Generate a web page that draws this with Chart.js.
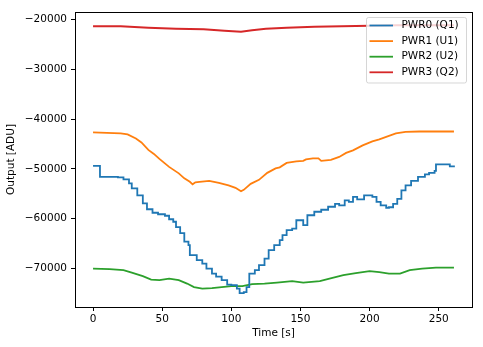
<!DOCTYPE html>
<html>
<head>
<meta charset="utf-8">
<script src="https://cdn.jsdelivr.net/npm/chart.js@4/dist/chart.umd.min.js"></script>
<style>
  html, body { margin: 0; padding: 0; background: #fff; }
  canvas { display: block; }
</style>
</head>
<body>
<canvas id="pwrChart" width="483" height="347"></canvas>
<script>
// detector outputs vs. time, one time/value pair of arrays per channel
const labels = ['PWR0 (Q1)', 'PWR1 (U1)', 'PWR2 (U2)', 'PWR3 (Q2)'];
const colors = ['#1f77b4', '#ff7f0e', '#2ca02c', '#d62728'];

const pwr0Time = [0, 5, 18, 22, 26, 28, 32, 36, 39, 43, 47, 52, 55, 58, 60, 63, 66, 69, 70, 75,
  79, 82, 86, 89, 93, 97, 100, 104, 106, 109, 111, 113, 117, 120, 124, 127, 131, 135, 137, 140,
  144, 147, 150, 152, 155, 160, 165, 170, 175, 178, 182, 185, 188, 191, 196, 202, 205, 208, 212, 214,
  217, 220, 223, 226, 230, 235, 240, 243, 247, 248, 255, 258, 261];
const pwr0Vals = [-49400, -51600, -51700, -52100, -52900, -53900, -55300, -56900, -58100, -58800,
  -59100, -59400, -60100, -60600, -61700, -62900, -64600, -65300, -67300, -68300,
  -69000, -70000, -71000, -71600, -72300, -73200, -73300, -74000, -74900, -74700,
  -73700, -71000, -70300, -69300, -68000, -66300, -65300, -64300, -63300, -62300,
  -62000, -60300, -60300, -61300, -59300, -58600, -58200, -57600, -57000, -57300,
  -56300, -56600, -55600, -56100, -55300, -55600, -56600, -57300, -57800, -57700,
  -57000, -56000, -54300, -53300, -52400, -51600, -51100, -50800, -50400, -49100,
  -49100, -49500, -49300];

const pwr1Time = [0, 10, 20, 25, 31, 35, 40, 44, 48, 55, 62, 66, 70, 72, 74, 77, 84, 91, 98, 103,
  107, 109, 114, 120, 126, 132, 135, 140, 147, 152, 154, 159, 163, 165, 172, 178, 183, 188, 195, 202,
  207, 212, 219, 226, 236, 261];
const pwr1Vals = [-42700, -42800, -42900, -43100, -43900, -44700, -46200, -47000, -48000, -49600,
  -50900, -51900, -52600, -53100, -52700, -52600, -52400, -52800, -53300, -53800,
  -54500, -54200, -53000, -52200, -50800, -49900, -49700, -48800, -48500, -48400,
  -48100, -47900, -47900, -48400, -48200, -47600, -46800, -46300, -45300, -44500,
  -44100, -43600, -42900, -42600, -42500, -42500];

const pwr2Time = [0, 12, 22, 28, 36, 42, 48, 55, 62, 68, 73, 79, 86, 93, 100, 108, 115, 124, 133, 144,
  152, 164, 171, 181, 190, 200, 207, 214, 222, 229, 238, 248, 261];
const pwr2Vals = [-70000, -70100, -70300, -70800, -71500, -72200, -72300, -72000, -72300, -73000,
  -73700, -74000, -73900, -73700, -73500, -73500, -73100, -73000, -72800, -72500,
  -72800, -72500, -72000, -71300, -70900, -70500, -70700, -71000, -71000, -70300,
  -70000, -69800, -69800];

const pwr3Time = [0, 20, 40, 60, 80, 95, 107, 115, 125, 140, 160, 180, 200, 220, 240, 261];
const pwr3Vals = [-21400, -21400, -21700, -21900, -22000, -22300, -22500, -22200, -21900, -21700,
  -21500, -21400, -21300, -21200, -21200, -21200];

const xTicks = [0, 50, 100, 150, 200, 250];
const yTicks = [-70000, -60000, -50000, -40000, -30000, -20000];

const FONT = 'DejaVu Sans';
Chart.defaults.font.family = FONT;
Chart.defaults.font.size = 10.5;
Chart.defaults.color = '#000';

function toPoints(ts, vs) {
  return ts.map((t, i) => ({ x: t, y: vs[i] }));
}

const series = [
  toPoints(pwr0Time, pwr0Vals),
  toPoints(pwr1Time, pwr1Vals),
  toPoints(pwr2Time, pwr2Vals),
  toPoints(pwr3Time, pwr3Vals)
];

// axes frame on all four sides
const framePlugin = {
  id: 'frame',
  afterDraw(chart) {
    const { ctx, chartArea: a } = chart;
    ctx.save();
    ctx.strokeStyle = '#000';
    ctx.lineWidth = 1;
    ctx.strokeRect(Math.round(a.left) + 0.5, Math.round(a.top) + 0.5,
      Math.round(a.right - a.left), Math.round(a.bottom - a.top));
    ctx.restore();
  }
};

// semi-transparent legend box in the upper right corner of the plot
const boxLegend = {
  id: 'boxLegend',
  afterDatasetsDraw(chart) {
    const { ctx, chartArea: a } = chart;
    const right = a.right - 6, top = a.top + 5;
    const w = 100, h = 65.5, left = right - w;
    ctx.save();
    ctx.globalAlpha = 0.8;
    ctx.fillStyle = '#fff';
    ctx.strokeStyle = '#cccccc';
    ctx.lineWidth = 1;
    ctx.beginPath();
    ctx.roundRect(left + 0.5, top + 0.5, w, h, 2);
    ctx.fill();
    ctx.stroke();
    ctx.globalAlpha = 1;
    ctx.font = '10.5px ' + FONT;
    ctx.textBaseline = 'middle';
    chart.data.datasets.forEach((ds, i) => {
      const y = top + 8.5 + i * 15.6;
      ctx.strokeStyle = ds.borderColor;
      ctx.lineWidth = 1.8;
      ctx.beginPath();
      ctx.moveTo(left + 3.5, y);
      ctx.lineTo(left + 27, y);
      ctx.stroke();
      ctx.fillStyle = '#000';
      ctx.fillText(ds.label, left + 35.5, y);
    });
    ctx.restore();
  }
};

new Chart(document.getElementById('pwrChart'), {
  type: 'line',
  data: {
    datasets: series.map((pts, i) => ({
      label: labels[i],
      data: pts,
      borderColor: colors[i],
      backgroundColor: colors[i],
      borderWidth: 1.8,
      pointRadius: 0,
      tension: 0,
      // PWR0 holds each level until the next reading (staircase)
      stepped: i === 0 ? 'before' : false
    }))
  },
  options: {
    responsive: false,
    animation: false,
    devicePixelRatio: 1,
    layout: { padding: { top: 12, right: 11, left: 0, bottom: 0 } },
    plugins: {
      legend: { display: false },
      tooltip: { enabled: false }
    },
    scales: {
      x: {
        type: 'linear',
        min: -13.05,
        max: 274.05,
        afterBuildTicks: s => { s.ticks = xTicks.map(v => ({ value: v })); },
        afterFit: s => { s.height = 40; },
        grid: { drawOnChartArea: false, drawTicks: true, tickLength: 4, color: '#000' },
        border: { display: false },
        ticks: { padding: 2, maxRotation: 0 },
        title: { display: true, text: 'Time [s]', padding: { top: 0, bottom: 7.7 } }
      },
      y: {
        type: 'linear',
        min: -77700,
        max: -18540,
        afterBuildTicks: s => { s.ticks = yTicks.map(v => ({ value: v })); },
        afterFit: s => { s.width = 75; },
        grid: { drawOnChartArea: false, drawTicks: true, tickLength: 4, color: '#000' },
        border: { display: false },
        ticks: {
          padding: 4,
          callback: v => String(v).replace('-', '\u2212')
        },
        title: { display: true, text: 'Output [ADU]', padding: { top: 5.4, bottom: 0 } }
      }
    }
  },
  plugins: [framePlugin, boxLegend]
});
</script>
</body>
</html>
